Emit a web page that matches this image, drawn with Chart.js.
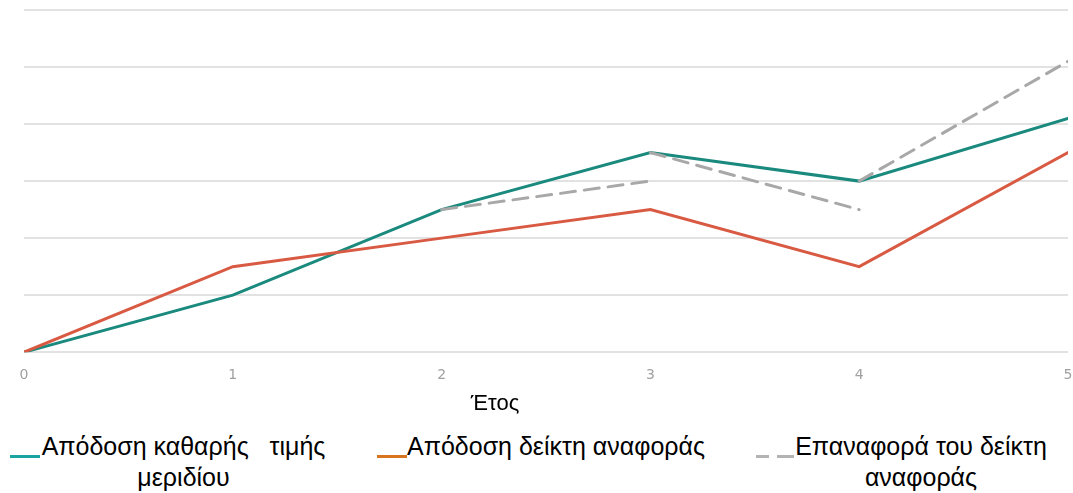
<!DOCTYPE html>
<html>
<head>
<meta charset="utf-8">
<script src="https://cdn.jsdelivr.net/npm/chart.js@4"></script>
<style>
  html, body { margin: 0; padding: 0; background: #fff; }
  body { width: 1073px; height: 493px; position: relative; overflow: hidden; font-family: "Liberation Sans", Arial, sans-serif; }
  #wrap { position: absolute; left: 0; top: 0; width: 1073px; height: 405px; }
  .txt { position: absolute; color: #000; white-space: nowrap; }
  #xtitle { left: 0; width: 990px; text-align: center; top: 390px; font-size: 22px; }
  .leg { position: absolute; font-size: 25px; line-height: 31px; text-align: center; color: #000; white-space: nowrap; }
  .mk { position: absolute; height: 3px; }
</style>
</head>
<body>
<div id="wrap"><canvas id="c"></canvas></div>
<div class="txt" id="xtitle"></div>
<div id="legend"></div>
<script>
// ---- data ----
const years = [0, 1, 2, 3, 4, 5];
const navReturn = [0, 1, 2.5, 3.5, 3, 4.1];        // Απόδοση καθαρής τιμής μεριδίου
const benchReturn = [0, 1.5, 2, 2.5, 1.5, 3.5];    // Απόδοση δείκτη αναφοράς
const rebaseStartYear = [2, 3, 4];                 // Επαναφορά του δείκτη αναφοράς
const rebaseStartValue = [2.5, 3.5, 3];
const rebaseEndValue = [3, 2.5, 5.1];
const xTitle = "Έτος";
const seriesNames = ["Απόδοση καθαρής   τιμής\nμεριδίου", "Απόδοση δείκτη αναφοράς", "Επαναφορά του δείκτη\nαναφοράς"];
const colors = { nav: "#1b8a7e", bench: "#d95a43", rebase: "#a8a8a8", navLeg: "#1aa5a0", benchLeg: "#d8741c", rebaseLeg: "#b3b3b3" };

// build rebase segments (gaps between them)
const rebasePts = [];
rebaseStartYear.forEach((y0, i) => {
  if (i > 0) rebasePts.push({ x: y0, y: null });
  rebasePts.push({ x: y0, y: rebaseStartValue[i] });
  rebasePts.push({ x: y0 + 1, y: rebaseEndValue[i] });
});

new Chart(document.getElementById('c'), {
  type: 'line',
  data: {
    datasets: [
      { label: seriesNames[2], data: rebasePts, borderColor: colors.rebase, borderDash: [15, 9], borderWidth: 3, spanGaps: false },
      { label: seriesNames[1], data: years.map((x, i) => ({ x, y: benchReturn[i] })), borderColor: colors.bench, borderWidth: 3 },
      { label: seriesNames[0], data: years.map((x, i) => ({ x, y: navReturn[i] })), borderColor: colors.nav, borderWidth: 3 }
    ]
  },
  options: {
    responsive: true,
    maintainAspectRatio: false,
    animation: false,
    elements: { point: { radius: 0 }, line: { tension: 0, borderCapStyle: 'round' } },
    layout: { padding: { left: 24, right: 5, top: 10, bottom: 6 } },
    plugins: { legend: { display: false }, tooltip: { enabled: false } },
    scales: {
      x: {
        type: 'linear', min: 0, max: 5,
        grid: { display: false, drawTicks: false },
        border: { display: false },
        ticks: { stepSize: 1, padding: 15, color: '#a0a0a0', font: { family: 'DejaVu Sans', size: 14 } },
        afterFit: (s) => { s.paddingRight = 0; s.paddingLeft = 0; }
      },
      y: {
        min: 0, max: 6,
        grid: { color: '#e2e2e2', lineWidth: 2, drawTicks: false },
        border: { display: false },
        ticks: { display: false, stepSize: 1 }
      }
    }
  }
});

// axis title and legend as text
document.getElementById('xtitle').textContent = xTitle;
const legend = document.getElementById('legend');
const legItems = [
  { left: 41, width: 285, top: 431, color: colors.navLeg, mk: [[10, 30]], name: seriesNames[0] },
  { left: 407, width: 298, top: 431, color: colors.benchLeg, mk: [[377, 30]], name: seriesNames[1] },
  { left: 795, width: 252, top: 431, color: colors.rebaseLeg, mk: [[756, 13], [777, 17]], name: seriesNames[2] }
];
legItems.forEach(it => {
  const d = document.createElement('div');
  d.className = 'leg';
  d.style.left = it.left + 'px'; d.style.width = it.width + 'px'; d.style.top = it.top + 'px';
  d.innerHTML = it.name.split('\n').map(s => s.replace(/ /g, '&nbsp;')).join('<br>');
  legend.appendChild(d);
  it.mk.forEach(([x, w]) => {
    const m = document.createElement('div');
    m.className = 'mk';
    m.style.left = x + 'px'; m.style.width = w + 'px'; m.style.top = '455px'; m.style.background = it.color;
    legend.appendChild(m);
  });
});
</script>
</body>
</html>
